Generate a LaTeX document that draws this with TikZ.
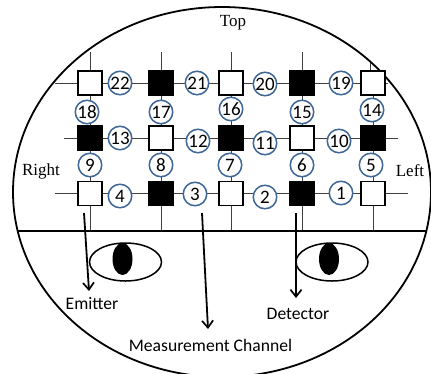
\documentclass[tikz,border=0pt]{standalone}
\usepackage{fontspec}
\setmainfont{Carlito}
\newfontfamily\serifface{Liberation Serif}
\usetikzlibrary{shapes.geometric,arrows.meta,backgrounds}
\definecolor{ringblue}{HTML}{3F6797}
\tikzset{
  cellbase/.style={rectangle,minimum size=24pt,inner sep=0pt,line width=1.6pt,draw=black},
  emptycell/.style={cellbase,fill=white},
  solidcell/.style={cellbase,fill=black},
  num/.style={circle,draw=ringblue,line width=1.5pt,fill=white,minimum size=23.5pt,inner sep=0pt,font=\fontsize{19}{20}\selectfont},
  wire/.style={line width=1pt,draw=black!75},
  pointer/.style={line width=1.8pt,-{Straight Barb[length=7pt,width=11pt,line width=1.7pt]}},
  sidelabel/.style={font=\serifface\fontsize{17}{18}\selectfont,inner sep=0pt},
  calllabel/.style={font=\fontsize{17.6}{18}\selectfont,inner sep=0pt},
  eyeball/.style={ellipse,draw=black,line width=1.5pt,minimum width=72pt,minimum height=38pt,inner sep=0pt},
  pupil/.style={ellipse,fill=black,minimum width=20pt,minimum height=32pt,inner sep=0pt}
}
\begin{document}
\begin{tikzpicture}[x=1pt,y=-1pt]
\useasboundingbox (0,0) rectangle (431,373);
% wafer outline
\node[ellipse,draw=black,line width=1.8pt,minimum width=418pt,minimum height=370pt,inner sep=0pt] (wafer) at (222,192) {};
% cells
\node[emptycell] (a1) at (90,83) {};
\node[solidcell] (a2) at (161,83) {};
\node[emptycell] (a3) at (231,83) {};
\node[solidcell] (a4) at (302,83) {};
\node[emptycell] (a5) at (373,83) {};
\node[solidcell] (b1) at (90,138) {};
\node[emptycell] (b2) at (161,138) {};
\node[solidcell] (b3) at (231,138) {};
\node[emptycell] (b4) at (302,138) {};
\node[solidcell] (b5) at (373,138) {};
\node[emptycell] (c1) at (90,193.5) {};
\node[solidcell] (c2) at (161,193.5) {};
\node[emptycell] (c3) at (231,193.5) {};
\node[solidcell] (c4) at (302,193.5) {};
\node[emptycell] (c5) at (373,193.5) {};
% numbered channels
\node[num] (n22) at (120,83) {22};
\node[num] (n21) at (197,83) {21};
\node[num] (n20) at (265,84) {20};
\node[num] (n19) at (341,83) {19};
\node[num] (n18) at (87,112) {18};
\node[num] (n17) at (161,112) {17};
\node[num] (n16) at (231,109) {16};
\node[num] (n15) at (302,112) {15};
\node[num] (n14) at (372,110) {14};
\node[num] (n13) at (120,138) {13};
\node[num] (n12) at (198,141) {12};
\node[num] (n11) at (265,143) {11};
\node[num] (n10) at (339,141) {10};
\node[num] (n9) at (90,165) {9};
\node[num] (n8) at (161,165) {8};
\node[num] (n7) at (230,165) {7};
\node[num] (n6) at (302,165) {6};
\node[num] (n5) at (371,165) {5};
\node[num] (n4) at (120,196) {4};
\node[num] (n3) at (195,194) {3};
\node[num] (n2) at (265,197) {2};
\node[num] (n1) at (341,193) {1};
% free ends
\coordinate (ra) at (55,83);
\coordinate (rae) at (388,83);
\coordinate (rb) at (64,138);
\coordinate (rbe) at (398,138);
\coordinate (rc) at (55,193);
\coordinate (rce) at (408,193);
\coordinate (t1) at (90,52);
\coordinate (t2) at (161,52);
\coordinate (t3) at (231,52);
\coordinate (t4) at (302,52);
\coordinate (t5) at (370,62);
\coordinate (busl) at (18,231);
\coordinate (busr) at (427,231);
\coordinate (g1) at (90,231);
\coordinate (g2) at (161,231);
\coordinate (g3) at (231,231);
\coordinate (g4) at (302,231);
\coordinate (g5) at (373,231);
\begin{scope}[on background layer]
\draw[wire] (ra) -- (rae);
\draw[wire] (rb) -- (rbe);
\draw[wire] (rc) -- (rce);
\draw[wire] (t1) -- (g1);
\draw[wire] (t2) -- (g2);
\draw[wire] (t3) -- (g3);
\draw[wire] (t4) -- (g4);
\draw[wire] (t5) -- (t5 |- a5.north);
\draw[wire] (a5) -- (g5);
\end{scope}
\draw[line width=1.8pt] (busl) -- (busr);
% eyes
\node[eyeball] (eyeL) at (125.5,262) {};
\node[pupil] (pupL) at (122.5,259) {};
\node[eyeball] (eyeR) at (332,262) {};
\node[pupil] (pupR) at (329,259) {};
% labels
\node[sidelabel] (top) at (233,23) {Top};
\node[sidelabel] (right) at (41,171) {Right};
\node[sidelabel] (left) at (410,171) {Left};
\node[calllabel] (emit) at (92,304) {Emitter};
\node[calllabel] (det) at (298,314) {Detector};
\node[calllabel] (chan) at (210.5,345) {Measurement Channel};
% pointers
\coordinate (pe) at (84,213);
\coordinate (pet) at (89,291);
\coordinate (pm) at (202,213);
\coordinate (pmt) at (208,329);
\coordinate (pd) at (296,213);
\coordinate (pdt) at (296,298);
\draw[pointer] (pe) -- (pet);
\draw[pointer] (pm) -- (pmt);
\draw[pointer] (pd) -- (pdt);
\end{tikzpicture}
\end{document}
